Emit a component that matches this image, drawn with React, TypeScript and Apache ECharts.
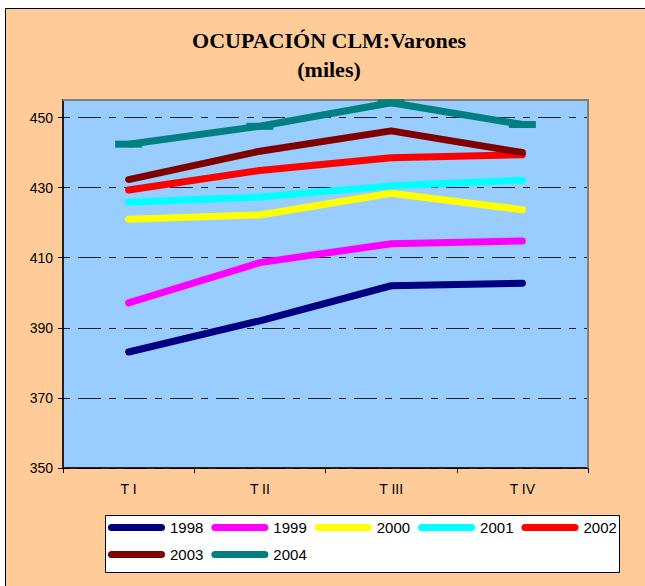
import React, { useEffect, useRef } from 'react';
import * as echarts from 'echarts';

const quarters = ['T I', 'T II', 'T III', 'T IV'];
const years = ['1998', '1999', '2000', '2001', '2002', '2003', '2004'];
const v1998 = [383.1, 392.0, 402.0, 402.7];
const v1999 = [397.1, 408.6, 414.0, 414.8];
const v2000 = [421.0, 422.2, 428.4, 423.7];
const v2001 = [425.8, 427.3, 430.5, 432.1];
const v2002 = [429.3, 434.9, 438.5, 439.4];
const v2003 = [432.3, 440.4, 446.2, 440.0];
const v2004 = [442.4, 447.5, 454.2, 448.0];
const seriesValues = [v1998, v1999, v2000, v2001, v2002, v2003, v2004];
const colors = ['#000080', '#FF00FF', '#FFFF00', '#00FFFF', '#FF0000', '#800000', '#008080'];
const yMin = 350;
const yMax = 455;
const yStep = 20;

const legendIcon = 'path://M3.5,0H53.5A3.5,3.5,0,0,1,53.5,7H3.5A3.5,3.5,0,0,1,3.5,0Z';

export default function App() {
  const ref = useRef<HTMLDivElement>(null);
  useEffect(() => {
    if (!ref.current) return;
    const chart = echarts.init(ref.current, null, { renderer: 'svg' });
    const series = years.map((y, i) => {
      const isLast = i === years.length - 1;
      return {
        name: y,
        type: 'line',
        data: seriesValues[i],
        symbol: isLast ? 'rect' : 'none',
        symbolSize: isLast ? [27, 7] : 0,
        showSymbol: isLast,
        clip: false,
        silent: true,
        itemStyle: { color: colors[i] },
        lineStyle: { width: 7, color: colors[i], cap: isLast ? 'butt' : 'round', join: 'round' },
        emphasis: { disabled: true },
      };
    });
    chart.setOption({
      animation: false,
      backgroundColor: '#FFCC99',
      textStyle: { fontFamily: 'Liberation Sans' },
      graphic: [
        { type: 'rect', shape: { x: 0, y: 0, width: 5, height: 586 }, style: { fill: '#ffffff' }, silent: true },
        { type: 'rect', shape: { x: 0, y: 0, width: 645, height: 8 }, style: { fill: '#ffffff' }, silent: true },
        { type: 'line', shape: { x1: 5.5, y1: 8.5, x2: 645, y2: 8.5 }, style: { stroke: '#000', lineWidth: 1 }, silent: true },
        { type: 'line', shape: { x1: 5.5, y1: 8.5, x2: 5.5, y2: 586 }, style: { stroke: '#000', lineWidth: 1 }, silent: true },
        {
          type: 'text', x: 329, y: 40, silent: true,
          style: { text: 'OCUPACIÓN CLM:Varones', fontFamily: 'Liberation Serif', fontWeight: 'bold', fontSize: 22, fill: '#000', textAlign: 'center', textVerticalAlign: 'middle' },
        },
        {
          type: 'text', x: 329, y: 69, silent: true,
          style: { text: '(miles)', fontFamily: 'Liberation Serif', fontWeight: 'bold', fontSize: 22, fill: '#000', textAlign: 'center', textVerticalAlign: 'middle' },
        },
        { type: 'rect', shape: { x: 105.5, y: 515.5, width: 514, height: 57 }, style: { fill: '#ffffff', stroke: '#000', lineWidth: 1 }, silent: true },
        {
          type: 'polyline', z: 1, silent: true,
          shape: { points: [[63, 100], [588, 100], [588, 468]] },
          style: { stroke: '#808080', lineWidth: 2, fill: null },
        },
      ],
      legend: {
        data: years,
        left: 108,
        top: 518,
        width: 520,
        padding: 0,
        itemWidth: 57,
        itemHeight: 7,
        itemGap: 8,
        icon: legendIcon,
        selectedMode: false,
        textStyle: { fontFamily: 'Liberation Sans', fontSize: 15, color: '#000', lineHeight: 19 },
      },
      grid: {
        left: 63,
        top: 100,
        width: 525,
        height: 368,
        show: true,
        backgroundColor: '#99CCFF',
        borderColor: '#808080',
        borderWidth: 2,
      },
      xAxis: {
        type: 'category',
        data: quarters,
        boundaryGap: true,
        axisLine: { show: true, lineStyle: { color: '#000', width: 1.5 } },
        axisTick: { show: true, length: 5, lineStyle: { color: '#000' } },
        axisLabel: { margin: 14, fontSize: 14, color: '#000', fontFamily: 'Liberation Sans' },
        splitLine: { show: false },
      },
      yAxis: {
        type: 'value',
        min: yMin,
        max: yMax,
        interval: yStep,
        axisLine: { show: true, lineStyle: { color: '#000', width: 1.5 } },
        axisTick: { show: true, length: 5, lineStyle: { color: '#000' } },
        axisLabel: { margin: 10, fontSize: 14, color: '#000', fontFamily: 'Liberation Sans', showMaxLabel: false },
        splitLine: { show: true, lineStyle: { color: '#222', width: 1, type: [7, 8, 23, 8] } },
      },
      series,
    });
    return () => chart.dispose();
  }, []);
  return <div ref={ref} style={{ position: 'fixed', left: 0, top: 0, width: 645, height: 586 }} />;
}
